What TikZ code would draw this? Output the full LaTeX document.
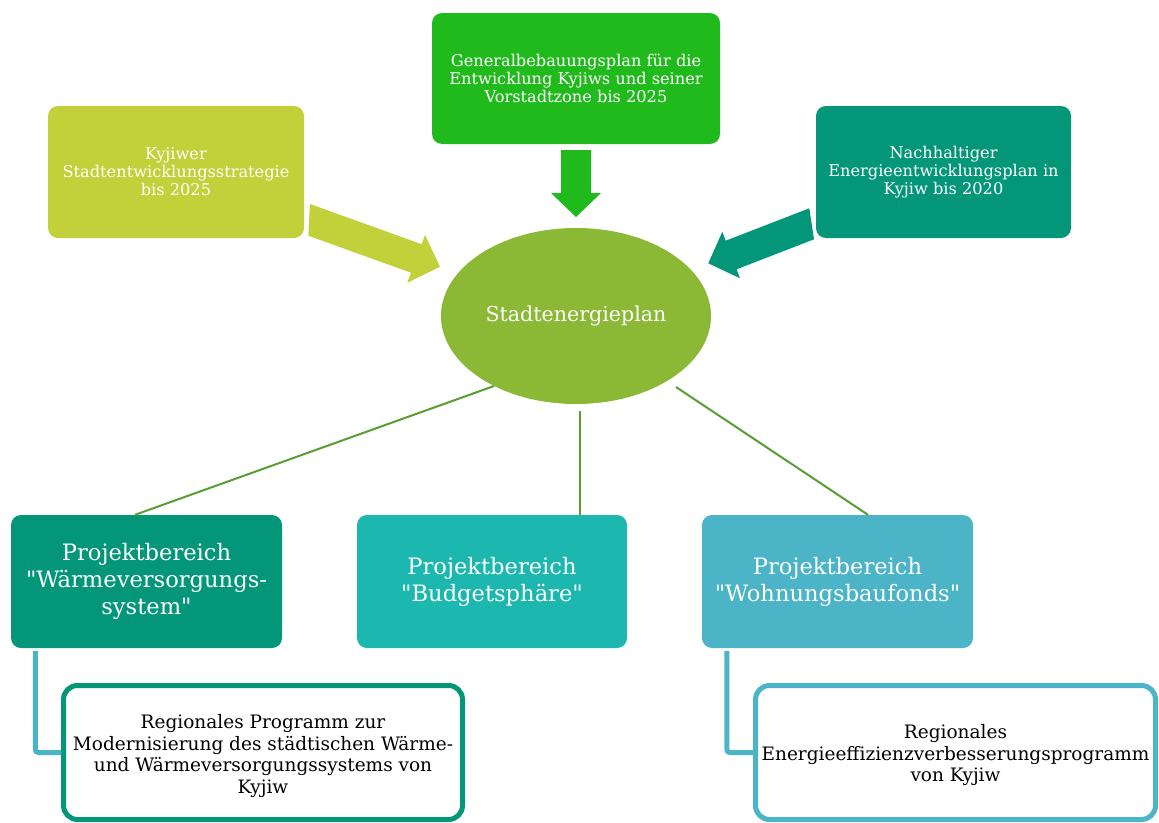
\documentclass[tikz,border=0pt]{standalone}
\usepackage{fontspec}
\setmainfont{DejaVu Serif}[Ligatures=TeXOff]
\usetikzlibrary{shapes.geometric,calc}
\definecolor{cLime}{RGB}{194,209,58}
\definecolor{cGreen}{RGB}{33,186,28}
\definecolor{cTeal}{RGB}{3,150,120}
\definecolor{cOlive}{RGB}{139,184,53}
\definecolor{cTurq}{RGB}{28,184,176}
\definecolor{cSky}{RGB}{75,180,198}
\definecolor{cLine}{RGB}{88,158,50}
\tikzset{
  topbox/.style={rectangle, rounded corners=10pt, inner sep=0pt, align=center, text=white,
    font=\fontsize{16.2}{18}\selectfont},
  areabox/.style={rectangle, rounded corners=10pt, inner sep=0pt, align=center, text=white,
    minimum width=271pt, minimum height=133pt, font=\fontsize{22.6}{27}\selectfont},
  progbox/.style={rectangle, rounded corners=14pt, inner sep=0pt,
    line width=5pt, fill=white, minimum height=134pt},
  progtext/.style={inner sep=0pt, align=center, text=black, font=\fontsize{18.5}{21.5}\selectfont},
  hub/.style={ellipse, inner sep=0pt, fill=cOlive, text=white, minimum width=270pt, minimum height=176pt,
    font=\fontsize{20.6}{24}\selectfont},
  link/.style={draw=cLine, line width=2pt},
  sublink/.style={draw=cSky, line width=5pt, rounded corners=3pt},
}
\begin{document}
\begin{tikzpicture}[x=1pt,y=-1pt]
\useasboundingbox (0,0) rectangle (1159,822);
\fill[white] (0,0) rectangle (1159,822);

% block arrows
\fill[cLime] (310,204) -- (421.6,244.2) -- (425,235) -- (440,266.7) -- (407.3,282.7) -- (411,272.7) -- (308.3,235.7) -- cycle;
\fill[cGreen] (561,150) -- (591,150) -- (591,193) -- (601,193) -- (576,217) -- (551,193) -- (561,193) -- cycle;
\fill[cTeal] (809.3,208.3) -- (725.7,240.7) -- (722.3,231.7) -- (708.3,263.3) -- (740,278.3) -- (736.6,269.3) -- (814,239.3) -- cycle;

% top boxes
\node[topbox, fill=cLime, minimum width=256pt, minimum height=132pt] (k1) at (176,172)
  {Kyjiwer\\Stadtentwicklungsstrategie\\bis 2025};
\node[topbox, fill=cGreen, minimum width=288pt, minimum height=131pt] (k2) at (576,78.5)
  {Generalbebauungsplan für die\\Entwicklung Kyjiws und seiner\\Vorstadtzone bis 2025};
\node[topbox, fill=cTeal, minimum width=255pt, minimum height=132pt] (k3) at (943.5,172)
  {Nachhaltiger\\Energieentwicklungsplan in\\Kyjiw bis 2020};

% hub
\node[hub] (ell) at (576,316) {Stadtenergieplan};

% area boxes
\node[areabox, fill=cTeal] (bA) at (146.5,581.5) {Projektbereich\\"Wärmeversorgungs-\\system"};
\node[areabox, fill=cTurq, minimum width=270pt] (bB) at (492,581.5) {Projektbereich\\"Budgetsphäre"};
\node[areabox, fill=cSky] (bC) at (837.5,581.5) {Projektbereich\\"Wohnungsbaufonds"};

% links from hub
\draw[link] ($(ell.center)+(-82,70)$) -- ([xshift=-11.5pt]bA.north);
\draw[link] ([xshift=4pt,yshift=-7pt]ell.south) -- ([xshift=4pt]ell.south |- bB.north);
\draw[link] ($(ell.center)+(100,71)$) -- ([xshift=30.5pt]bC.north);

% programme boxes
\node[progbox, draw=cTeal, minimum width=399pt] (sA) at (263,752.5) {};
\node[progtext] (sAt) at ([yshift=-3.5pt]sA.center)
  {Regionales Programm zur\\Modernisierung des städtischen Wärme-\\und Wärmeversorgungssystems von\\Kyjiw};
\node[progbox, draw=cSky, minimum width=400pt] (sC) at (955.5,752.5) {};
\node[progtext] (sCt) at ([yshift=-3pt]sC.center)
  {Regionales\\Energieeffizienzverbesserungsprogramm\\von Kyjiw};

% sub connectors
\draw[sublink] ([xshift=24.5pt,yshift=-3pt]bA.south west) |- (sA.west);
\draw[sublink] ([xshift=25pt,yshift=-3pt]bC.south west) |- (sC.west);
\end{tikzpicture}
\end{document}
